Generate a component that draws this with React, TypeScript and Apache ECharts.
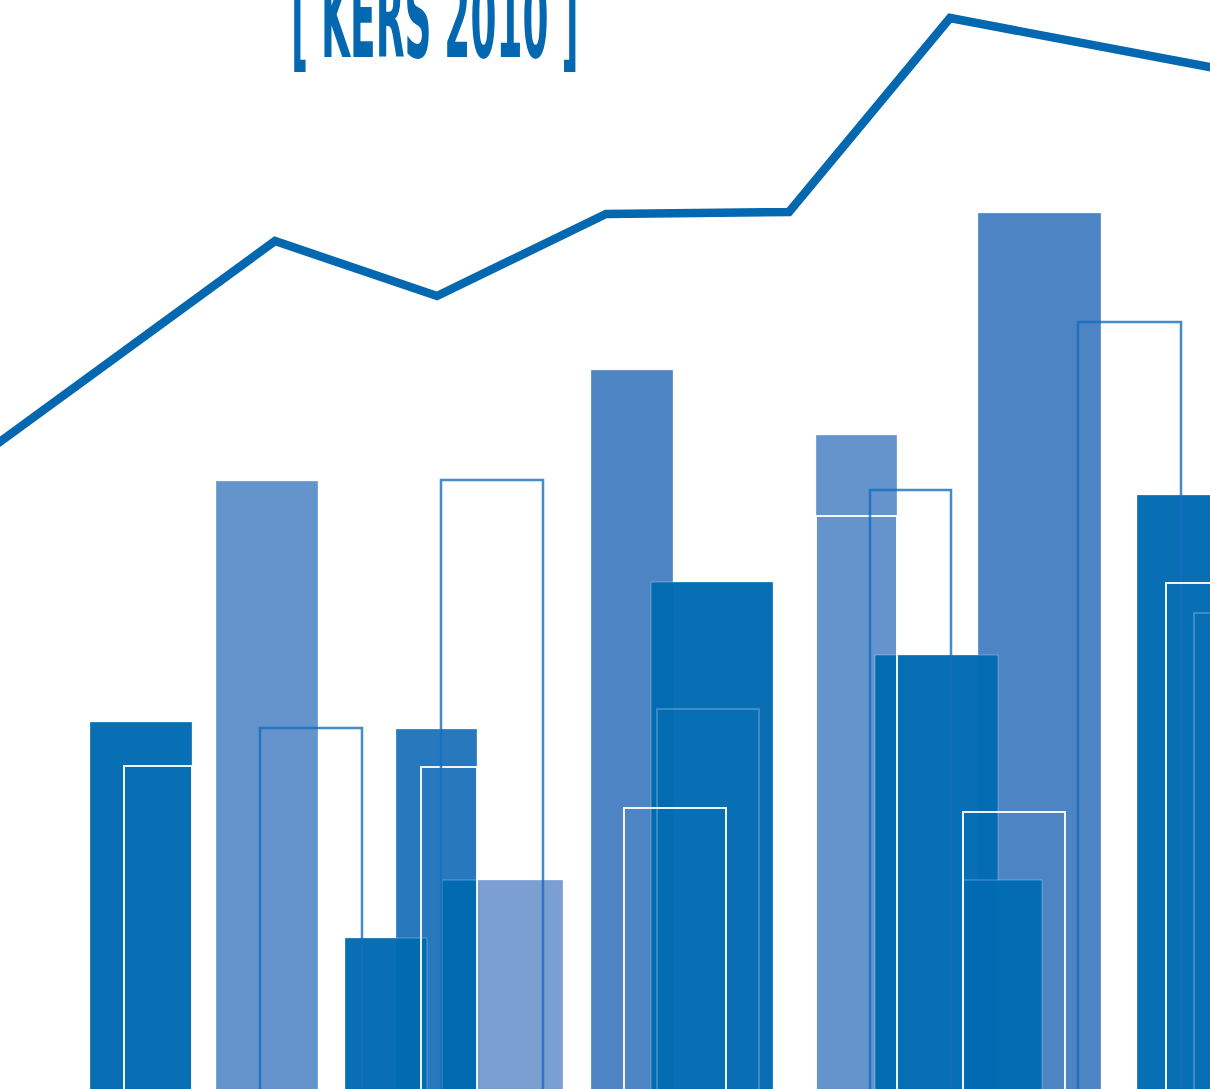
import React, { useEffect, useRef } from "react";
import * as echarts from "echarts";

// ---- data (units: horizontal position, height) ----
const barStart = [216, 90, 442, 396, 345, 442, 591, 651, 978, 816, 875, 963, 1137];
const barEnd = [318, 192, 563, 477, 427, 477, 673, 773, 1101, 897, 998, 1042, 1220];
const barValue = [608, 367, 209, 360, 151, 209, 719, 507, 876, 654, 434, 209, 594];
const barTone = ["mid", "dark", "pale", "strong", "dark", "dark", "soft", "dark", "soft", "mid", "dark", "dark", "dark"];

const frameStart = [124, 260, 421, 441, 657, 624, 816, 870, 963, 1078, 1166, 1194];
const frameEnd = [192, 362, 477, 543, 759, 726, 897, 951, 1065, 1181, 1230, 1230];
const frameValue = [323, 361, 322, 609, 380, 281, 573, 599, 277, 767, 506, 476];
const frameTone = ["white", "blue", "white", "blue", "faint", "white", "white", "blue", "white", "blue", "white", "faint"];

const linePos = [-10, 275, 437, 606, 789, 950, 1220];
const lineValue = [640, 848, 793, 875, 877, 1071, 1020];

const titleText = "[ KERS 2010 ]";

const fills: Record<string, string> = {
  dark: "rgba(0,106,178,0.97)",
  mid: "#6593cb",
  soft: "#4d84c3",
  strong: "#2878bd",
  pale: "#7b9fd0",
};
const frames: Record<string, { stroke: string; w: number }> = {
  white: { stroke: "rgba(255,255,255,0.92)", w: 2 },
  blue: { stroke: "rgba(20,110,190,0.8)", w: 2.5 },
  faint: { stroke: "rgba(255,255,255,0.28)", w: 1.5 },
};

export default function App() {
  const ref = useRef<HTMLDivElement>(null);
  useEffect(() => {
    if (!ref.current) return;
    const chart = echarts.init(ref.current, null, { renderer: "svg" });
    const barData = barStart.map((s, i) => [s, barEnd[i], barValue[i]]);
    const frameData = frameStart.map((s, i) => [s, frameEnd[i], frameValue[i]]);
    const lineData = linePos.map((x, i) => [x, lineValue[i]]);

    chart.setOption({
      animation: false,
      grid: { left: 0, right: 0, top: 0, bottom: 0 },
      xAxis: { type: "value", min: 0, max: 1210, show: false },
      yAxis: { type: "value", min: 0, max: 1089, show: false },
      graphic: [
        {
          type: "text",
          x: 291,
          y: 74,
          scaleX: 0.34,
          z: 100,
          style: {
            text: titleText,
            x: 0,
            y: 0,
            align: "left",
            verticalAlign: "bottom",
            fontFamily: "DejaVu Sans",
            fontWeight: "bold",
            fontSize: 110,
            fill: "#0468b0",
          },
        },
      ],
      series: [
        {
          type: "custom",
          data: barData,
          z: 2,
          renderItem: (params: any, api: any) => {
            const p0 = api.coord([api.value(0), api.value(2)]);
            const p1 = api.coord([api.value(1), -5]);
            return {
              type: "rect",
              shape: { x: p0[0], y: p0[1], width: p1[0] - p0[0], height: p1[1] - p0[1] },
              style: {
                fill: fills[barTone[params.dataIndex]],
                stroke: "rgba(255,255,255,0.3)",
                lineWidth: 1,
              },
            };
          },
        },
        {
          type: "custom",
          data: frameData,
          z: 3,
          renderItem: (params: any, api: any) => {
            const p0 = api.coord([api.value(0), api.value(2)]);
            const p1 = api.coord([api.value(1), -10]);
            const f = frames[frameTone[params.dataIndex]];
            return {
              type: "rect",
              shape: { x: p0[0], y: p0[1], width: p1[0] - p0[0], height: p1[1] - p0[1] },
              style: { fill: "none", stroke: f.stroke, lineWidth: f.w },
            };
          },
        },
        {
          type: "line",
          data: lineData,
          z: 4,
          symbol: "none",
          lineStyle: { color: "#0468b0", width: 8.5, join: "miter" },
        },
      ],
    });
    return () => chart.dispose();
  }, []);
  return (
    <div
      ref={ref}
      style={{ position: "absolute", left: 0, top: 0, width: 1210, height: 1089 }}
    />
  );
}
